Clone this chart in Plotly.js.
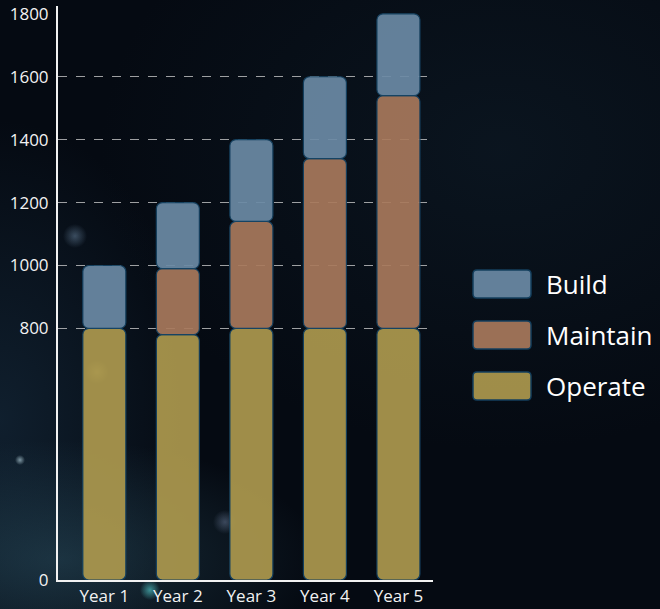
<!DOCTYPE html>
<html>
<head>
<meta charset="utf-8">
<script src="https://cdn.plot.ly/plotly-3.0.1.min.js"></script>
<style>
html,body{margin:0;padding:0;}
body{
  width:660px;height:609px;overflow:hidden;
  background-color:#050a12;
  background-image:
    radial-gradient(circle at 97px 372px, rgba(230,220,140,0.55) 0px, rgba(230,220,140,0) 12px),
    radial-gradient(circle at 75px 236px, rgba(120,150,180,0.45) 0px, rgba(120,150,180,0) 12px),
    radial-gradient(circle at 20px 460px, rgba(200,230,240,0.6) 0px, rgba(200,230,240,0) 5px),
    radial-gradient(circle at 150px 590px, rgba(90,220,220,0.6) 0px, rgba(90,220,220,0) 10px),
    radial-gradient(circle at 225px 522px, rgba(150,170,210,0.35) 0px, rgba(150,170,210,0) 12px),
    radial-gradient(ellipse 260px 120px at 60px 560px, rgba(60,110,130,0.35) 0%, rgba(60,110,130,0) 100%),
    radial-gradient(ellipse 200px 300px at 0px 420px, rgba(40,80,110,0.30) 0%, rgba(40,80,110,0) 100%),
    radial-gradient(ellipse 400px 300px at 500px 150px, rgba(20,40,55,0.35) 0%, rgba(20,40,55,0) 100%);
}
#chart{width:660px;height:609px;}
</style>
</head>
<body>
<div id="chart"></div>
<script>
// ---- data ----
const categories = ['Year 1', 'Year 2', 'Year 3', 'Year 4', 'Year 5'];
const operate  = [800, 780, 800, 800, 800];
const maintain = [0, 210, 340, 540, 740];
const build    = [200, 210, 260, 260, 260];
const seriesNames = ['Operate', 'Maintain', 'Build'];   // bottom -> top
const legendOrder = ['Build', 'Maintain', 'Operate'];
const yTickVals = [0, 800, 1000, 1200, 1400, 1600, 1800];
const gridVals  = [800, 1000, 1200, 1400, 1600];

// ---- styles ----
const colors = {
  'Operate':  'rgb(173,153,78)',
  'Maintain': 'rgb(168,121,92)',
  'Build':    'rgb(107,138,165)'
};
const edge = 'rgb(22,68,100)';
const W = 660, H = 609;
const M = {l: 58, r: 227, t: 6, b: 29};
const pw = W - M.l - M.r, ph = H - M.t - M.b;
const barWidth = 0.585;
const radius = 6;

const seriesValues = {'Operate': operate, 'Maintain': maintain, 'Build': build};

// stacked segments via explicit base (overlay mode) so each segment is rounded
const traces = [];
const cum = categories.map(() => 0);
seriesNames.forEach(name => {
  const vals = seriesValues[name];
  const bases = cum.slice();
  traces.push({
    type: 'bar', name: name, showlegend: false,
    x: categories, y: vals.map(v => v > 0 ? v : null), base: bases, width: barWidth,
    marker: {color: colors[name], opacity: 0.92, cornerradius: radius, line: {width: 1.2, color: edge}},
    hovertemplate: name + ': %{y}<extra></extra>'
  });
  vals.forEach((v, i) => { cum[i] += v; });
});

// legend built from series names
const shapes = [];
const annotations = [];
const legX = 502, legText = 544, legY0 = 284, legStep = 51;
const px2x = p => (p - M.l) / pw;
const px2y = p => (H - M.b - p) / ph;
const sw = 29, sh = 14, r = 4;
const swPath = `M ${-sw + r},${-sh} L ${sw - r},${-sh} Q ${sw},${-sh} ${sw},${-sh + r} L ${sw},${sh - r} Q ${sw},${sh} ${sw - r},${sh} L ${-sw + r},${sh} Q ${-sw},${sh} ${-sw},${sh - r} L ${-sw},${-sh + r} Q ${-sw},${-sh} ${-sw + r},${-sh} Z`;
legendOrder.forEach((name, i) => {
  const cy = legY0 + i * legStep;
  shapes.push({
    type: 'path', xref: 'paper', yref: 'paper',
    xsizemode: 'pixel', ysizemode: 'pixel',
    xanchor: px2x(legX), yanchor: px2y(cy),
    path: swPath, fillcolor: colors[name], opacity: 0.92,
    line: {color: edge, width: 1.5}
  });
  annotations.push({
    xref: 'paper', yref: 'paper', x: px2x(legText), y: px2y(cy),
    xanchor: 'left', yanchor: 'middle', showarrow: false,
    text: name, font: {family: 'Open Sans, sans-serif', size: 26, color: '#ffffff'}
  });
});

const layout = {
  width: W, height: H, autosize: false,
  margin: M,
  paper_bgcolor: 'rgba(0,0,0,0)', plot_bgcolor: 'rgba(0,0,0,0)',
  barmode: 'overlay',
  showlegend: false,
  font: {family: 'Open Sans, sans-serif', color: '#ffffff', size: 17},
  xaxis: {
    type: 'category', categoryarray: categories, range: [-0.63, 4.47],
    showgrid: false, zeroline: false, showline: true, linecolor: '#f2f2f2', linewidth: 2,
    ticks: '', ticklabelstandoff: 0, tickfont: {size: 17, color: '#f2f2f2'}, fixedrange: true
  },
  yaxis: {
    range: [0, 1825], tickvals: yTickVals, ticktext: yTickVals.map(String),
    showgrid: false, zeroline: false, showline: true, linecolor: '#f2f2f2', linewidth: 2,
    ticks: '', ticklabelstandoff: 4, tickfont: {size: 17, color: '#f2f2f2'}, fixedrange: true
  },
  yaxis2: {
    overlaying: 'y', range: [0, 1825], tickvals: gridVals,
    showgrid: true, gridcolor: 'rgba(210,210,210,0.75)', griddash: 'dash', gridwidth: 1,
    showticklabels: false, zeroline: false, showline: false, ticks: '', fixedrange: true
  },
  shapes: shapes,
  annotations: annotations
};

// invisible trace to activate yaxis2 (grid only)
traces.unshift({type: 'scatter', x: [categories[0]], y: [0], yaxis: 'y2', mode: 'markers',
  marker: {opacity: 0}, showlegend: false, hoverinfo: 'skip'});

Plotly.newPlot('chart', traces, layout, {displayModeBar: false});
</script>
</body>
</html>
